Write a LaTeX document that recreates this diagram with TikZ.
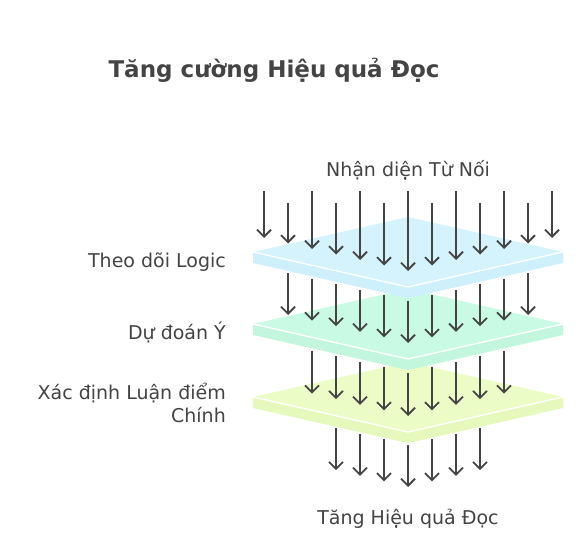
\documentclass[tikz,border=0pt]{standalone}
\usepackage{fontspec}
\setmainfont{DejaVu Sans}
\usetikzlibrary{arrows.meta}
\definecolor{ink}{HTML}{444444}
\definecolor{blueTop}{HTML}{D5F3FD}
\definecolor{blueSide}{HTML}{CDF0FC}
\definecolor{greenTop}{HTML}{C9FAE3}
\definecolor{greenSide}{HTML}{C2F7DD}
\definecolor{limeTop}{HTML}{ECFCC6}
\definecolor{limeSide}{HTML}{E6F9BC}
\newcommand\myplate[3]{%
  \fill[#3] (253,#1) -- (253,#1+11) -- (408,#1+46) -- (563,#1+11) -- (563,#1) -- cycle;
  \fill[#2] (253,#1) -- (408,#1-35) -- (563,#1) -- (408,#1+35) -- cycle;
  \draw[white, line width=1.3pt] (253,#1) -- (408,#1+35) -- (563,#1);
}
\begin{document}
\begin{tikzpicture}[x=1pt,y=-1pt,
  flow/.style={ink, line width=1.8pt, -{Straight Barb[length=7pt,width=14pt,line width=1.8pt]}},
  lbl/.style={text=ink, font=\fontsize{19}{23}\selectfont, inner sep=0pt},
  ttl/.style={text=ink, font=\bfseries\fontsize{23}{27}\selectfont, inner sep=0pt}]
\useasboundingbox (0,0) rectangle (588,540);
\fill[white] (0,0) rectangle (588,540);
\myplate{397}{limeTop}{limeSide}
\myplate{324}{greenTop}{greenSide}
\myplate{252}{blueTop}{blueSide}
\foreach \k in {-6,...,6}{
  \pgfmathsetmacro\sy{mod(abs(\k),2)==1 ? 203 : 191}
  \pgfmathsetmacro\ex{408+24*\k}
  \pgfmathsetmacro\ey{271-5.5*abs(\k)}
  \draw[flow] (\ex,\sy) -- (\ex,\ey);
}
\foreach \k in {-5,...,5}{
  \pgfmathsetmacro\ex{408+24*\k}
  \pgfmathsetmacro\ey{343-5.6*abs(\k)}
  \draw[flow] (\ex,\ey-42) -- (\ex,\ey);
}
\foreach \k in {-4,...,4}{
  \pgfmathsetmacro\ex{408+24*\k}
  \pgfmathsetmacro\ey{416-5.6*abs(\k)}
  \draw[flow] (\ex,\ey-43) -- (\ex,\ey);
}
\foreach \k in {-3,...,3}{
  \pgfmathsetmacro\ex{408+24*\k}
  \pgfmathsetmacro\ey{487-5.6*abs(\k)}
  \draw[flow] (\ex,\ey-42) -- (\ex,\ey);
}
\node[ttl] (title) at (274,70) {Tăng cường Hiệu quả Đọc};
\node[lbl] (input) at (408,170) {Nhận diện Từ Nối};
\node[lbl, anchor=east] (l1) at (226,262) {Theo dõi Logic};
\node[lbl, anchor=east] (l2) at (226,332) {Dự đoán Ý};
\node[lbl, anchor=east, align=right] (l3) at (226,403) {Xác định Luận điểm\\Chính};
\node[lbl] (output) at (408,519) {Tăng Hiệu quả Đọc};
\end{tikzpicture}
\end{document}
